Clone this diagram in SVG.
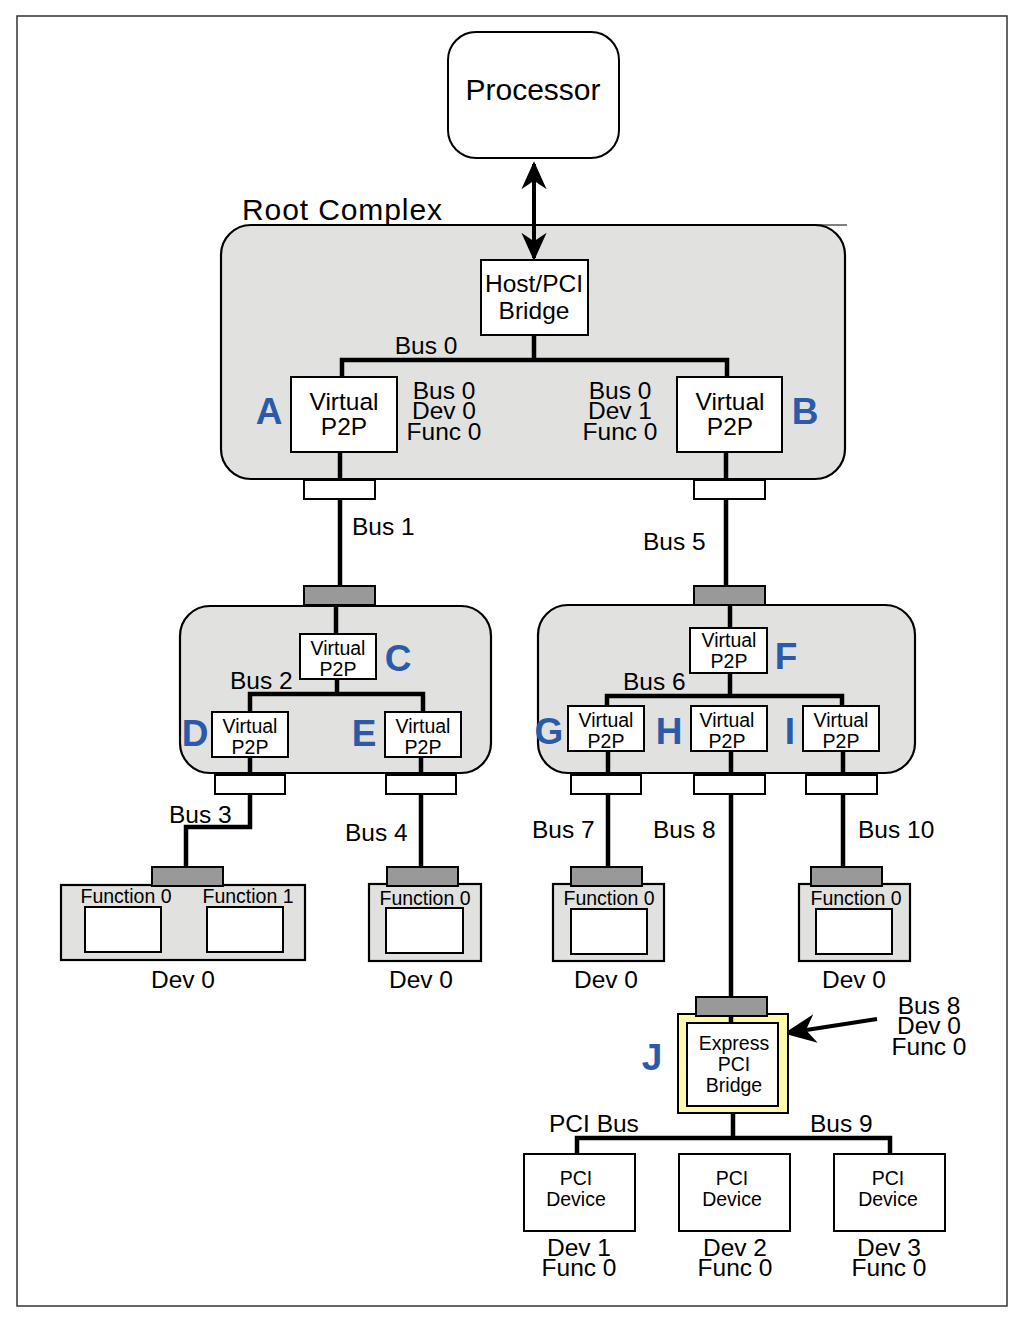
<svg xmlns="http://www.w3.org/2000/svg" width="1020" height="1322" viewBox="0 0 1020 1322">
<style>
text{font-family:"Liberation Sans",Arial,Helvetica,sans-serif;fill:#000}
.c{text-anchor:middle}
.big{font-size:24.5px}
.sm{font-size:19.5px}
.lbl{font-size:37px;font-weight:bold;fill:#2b5ba8;text-anchor:middle}
.box{fill:#fff;stroke:#000;stroke-width:2}
.grp{fill:#e1e2e0;stroke:#000;stroke-width:2.2}
.pw{fill:#fff;stroke:#000;stroke-width:2}
.pg{fill:#999;stroke:#000;stroke-width:2}
.bus{fill:none;stroke:#000;stroke-width:4.5}
</style>
<defs>
<marker id="ah" viewBox="0 0 20 20" refX="18" refY="10" markerWidth="7" markerHeight="7" markerUnits="strokeWidth" orient="auto-start-reverse">
<path d="M0,1 L20,10 L0,19 L6,10 Z" fill="#000"/>
</marker>
<marker id="ah2" viewBox="0 0 20 20" refX="18" refY="10" markerWidth="8" markerHeight="8" markerUnits="strokeWidth" orient="auto">
<path d="M0,1 L20,10 L0,19 L6,10 Z" fill="#000"/>
</marker>
</defs>
<rect x="17" y="16" width="990" height="1290" fill="#fff" stroke="#333" stroke-width="1.5"/>

<g id="root-complex">
<rect class="grp" x="221" y="225" width="624" height="254" rx="30"/>
<line x1="800" y1="225" x2="847" y2="225" stroke="#000" stroke-width="1"/>
<text x="242" y="220" font-size="30" textLength="200">Root Complex</text>
</g>

<g id="switch-left">
<rect class="grp" x="180" y="606" width="311" height="167" rx="30"/>
</g>
<g id="switch-right">
<rect class="grp" x="538" y="605" width="377" height="168" rx="30"/>
</g>

<g id="connectors">
<line x1="534" y1="164" x2="534" y2="258" stroke="#000" stroke-width="4" marker-start="url(#ah)" marker-end="url(#ah)"/>
<path class="bus" d="M534,335 V360 M342,378 V360 H727 V378"/>
<path class="bus" d="M340,452 V480 M340,499 V586 M336,604 V634"/>
<path class="bus" d="M726,452 V480 M726,499 V586 M730,604 V628"/>
<path class="bus" d="M337,679 V694 M250,713 V694 H423 V713"/>
<path class="bus" d="M250,757 V775 M250,793 V827 H186 V867"/>
<path class="bus" d="M421,757 V775 M421,793 V867"/>
<path class="bus" d="M730,673 V696 M607,707 V696 H842 V707"/>
<path class="bus" d="M608,751 V775 M608,793 V867"/>
<path class="bus" d="M731,751 V775 M731,793 V997"/>
<path class="bus" d="M843,751 V775 M843,793 V867"/>
<path class="bus" d="M731,1014 V1024 M733,1106 V1138 M577,1155 V1138 H890 V1155"/>
<line x1="877" y1="1019" x2="787" y2="1033" stroke="#000" stroke-width="4" marker-end="url(#ah2)"/>
</g>

<g id="processor">
<rect class="box" x="448" y="32" width="171" height="126" rx="28"/>
<text class="c" x="533" y="100" font-size="30">Processor</text>
</g>

<g id="host-bridge">
<rect class="box" x="481" y="260" width="107" height="75"/>
<text class="c big" x="534" y="292">Host/PCI</text>
<text class="c big" x="534" y="319">Bridge</text>
<text class="c big" x="426" y="354">Bus 0</text>
</g>

<g id="vp2p-A">
<rect class="box" x="291" y="377" width="106" height="75"/>
<text class="c big" x="344" y="410">Virtual</text>
<text class="c big" x="344" y="435">P2P</text>
<text class="lbl" x="269" y="424">A</text>
<text class="c big" x="444" y="399">Bus 0</text>
<text class="c big" x="444" y="419">Dev 0</text>
<text class="c big" x="444" y="440">Func 0</text>
<rect class="pw" x="304" y="480" width="71" height="19"/>
</g>

<g id="vp2p-B">
<rect class="box" x="677" y="377" width="105" height="75"/>
<text class="c big" x="730" y="410">Virtual</text>
<text class="c big" x="730" y="435">P2P</text>
<text class="lbl" x="805" y="424">B</text>
<text class="c big" x="620" y="399">Bus 0</text>
<text class="c big" x="620" y="419">Dev 1</text>
<text class="c big" x="620" y="440">Func 0</text>
<rect class="pw" x="694" y="480" width="71" height="19"/>
</g>

<text class="big" x="352" y="535">Bus 1</text>
<text class="big" x="643" y="550">Bus 5</text>

<g id="vp2p-C">
<rect class="pg" x="304" y="586" width="71" height="19"/>
<rect class="box" x="300" y="634" width="76" height="45"/>
<text class="c sm" x="338" y="655">Virtual</text>
<text class="c sm" x="338" y="676">P2P</text>
<text class="lbl" x="398" y="671">C</text>
<text class="big" x="230" y="689">Bus 2</text>
</g>

<g id="vp2p-D">
<rect class="box" x="212" y="712" width="76" height="45"/>
<text class="c sm" x="250" y="733">Virtual</text>
<text class="c sm" x="250" y="754">P2P</text>
<text class="lbl" x="195" y="746">D</text>
<rect class="pw" x="215" y="775" width="70" height="19"/>
</g>

<g id="vp2p-E">
<rect class="box" x="385" y="712" width="76" height="45"/>
<text class="c sm" x="423" y="733">Virtual</text>
<text class="c sm" x="423" y="754">P2P</text>
<text class="lbl" x="364" y="746">E</text>
<rect class="pw" x="386" y="775" width="70" height="19"/>
</g>

<g id="vp2p-F">
<rect class="pg" x="694" y="586" width="71" height="19"/>
<rect class="box" x="690" y="628" width="77" height="45"/>
<text class="c sm" x="729" y="647">Virtual</text>
<text class="c sm" x="729" y="668">P2P</text>
<text class="lbl" x="786" y="669">F</text>
<text class="big" x="623" y="690">Bus 6</text>
</g>

<g id="vp2p-G">
<rect class="box" x="568" y="706" width="76" height="45"/>
<text class="c sm" x="606" y="727">Virtual</text>
<text class="c sm" x="606" y="748">P2P</text>
<text class="lbl" x="549" y="744">G</text>
<rect class="pw" x="571" y="775" width="70" height="19"/>
</g>

<g id="vp2p-H">
<rect class="box" x="691" y="706" width="76" height="45"/>
<text class="c sm" x="727" y="727">Virtual</text>
<text class="c sm" x="727" y="748">P2P</text>
<text class="lbl" x="669" y="744">H</text>
<rect class="pw" x="694" y="775" width="71" height="19"/>
</g>

<g id="vp2p-I">
<rect class="box" x="803" y="706" width="76" height="45"/>
<text class="c sm" x="841" y="727">Virtual</text>
<text class="c sm" x="841" y="748">P2P</text>
<text class="lbl" x="790" y="744">I</text>
<rect class="pw" x="806" y="775" width="71" height="19"/>
</g>

<text class="big" x="169" y="823">Bus 3</text>
<text class="big" x="345" y="841">Bus 4</text>
<text class="big" x="532" y="838">Bus 7</text>
<text class="big" x="653" y="838">Bus 8</text>
<text class="big" x="858" y="838">Bus 10</text>

<g id="dev-bus3">
<rect class="grp" x="61" y="885" width="244" height="75" stroke-width="2"/>
<rect class="pg" x="152" y="867" width="71" height="19"/>
<text class="c sm" x="126" y="903">Function 0</text>
<rect class="box" x="85" y="907" width="76" height="45"/>
<text class="c sm" x="248" y="903">Function 1</text>
<rect class="box" x="207" y="907" width="76" height="45"/>
<text class="c big" x="183" y="988">Dev 0</text>
</g>

<g id="dev-bus4">
<rect class="grp" x="369" y="884" width="112" height="77" stroke-width="2"/>
<rect class="pg" x="387" y="867" width="71" height="19"/>
<text class="c sm" x="425" y="905">Function 0</text>
<rect class="box" x="386" y="908" width="77" height="45"/>
<text class="c big" x="421" y="988">Dev 0</text>
</g>

<g id="dev-bus7">
<rect class="grp" x="553" y="884" width="111" height="77" stroke-width="2"/>
<rect class="pg" x="571" y="867" width="71" height="19"/>
<text class="c sm" x="609" y="905">Function 0</text>
<rect class="box" x="571" y="909" width="76" height="45"/>
<text class="c big" x="606" y="988">Dev 0</text>
</g>

<g id="dev-bus10">
<rect class="grp" x="799" y="884" width="111" height="77" stroke-width="2"/>
<rect class="pg" x="811" y="867" width="71" height="19"/>
<text class="c sm" x="856" y="905">Function 0</text>
<rect class="box" x="816" y="909" width="76" height="45"/>
<text class="c big" x="854" y="988">Dev 0</text>
</g>

<g id="bridge-J">
<rect x="678" y="1014" width="110" height="99" fill="#fdfaa8" stroke="#000" stroke-width="2"/>
<rect class="pg" x="696" y="997" width="71" height="19"/>
<path class="bus" d="M731,1016 V1024"/>
<rect class="box" x="687" y="1023" width="91" height="83" stroke-width="2.5"/>
<text class="c sm" x="734" y="1050">Express</text>
<text class="c sm" x="734" y="1071">PCI</text>
<text class="c sm" x="734" y="1092">Bridge</text>
<text class="lbl" x="652" y="1070">J</text>
<text class="c big" x="929" y="1014">Bus 8</text>
<text class="c big" x="929" y="1034">Dev 0</text>
<text class="c big" x="929" y="1055">Func 0</text>
<text class="big" x="549" y="1132">PCI Bus</text>
<text class="big" x="810" y="1132">Bus 9</text>
</g>

<g id="pci-dev1">
<rect class="box" x="524" y="1154" width="111" height="77"/>
<text class="c sm" x="576" y="1185">PCI</text>
<text class="c sm" x="576" y="1206">Device</text>
<text class="c big" x="579" y="1256">Dev 1</text>
<text class="c big" x="579" y="1276">Func 0</text>
</g>
<g id="pci-dev2">
<rect class="box" x="679" y="1154" width="111" height="77"/>
<text class="c sm" x="732" y="1185">PCI</text>
<text class="c sm" x="732" y="1206">Device</text>
<text class="c big" x="735" y="1256">Dev 2</text>
<text class="c big" x="735" y="1276">Func 0</text>
</g>
<g id="pci-dev3">
<rect class="box" x="834" y="1154" width="111" height="77"/>
<text class="c sm" x="888" y="1185">PCI</text>
<text class="c sm" x="888" y="1206">Device</text>
<text class="c big" x="889" y="1256">Dev 3</text>
<text class="c big" x="889" y="1276">Func 0</text>
</g>
</svg>
